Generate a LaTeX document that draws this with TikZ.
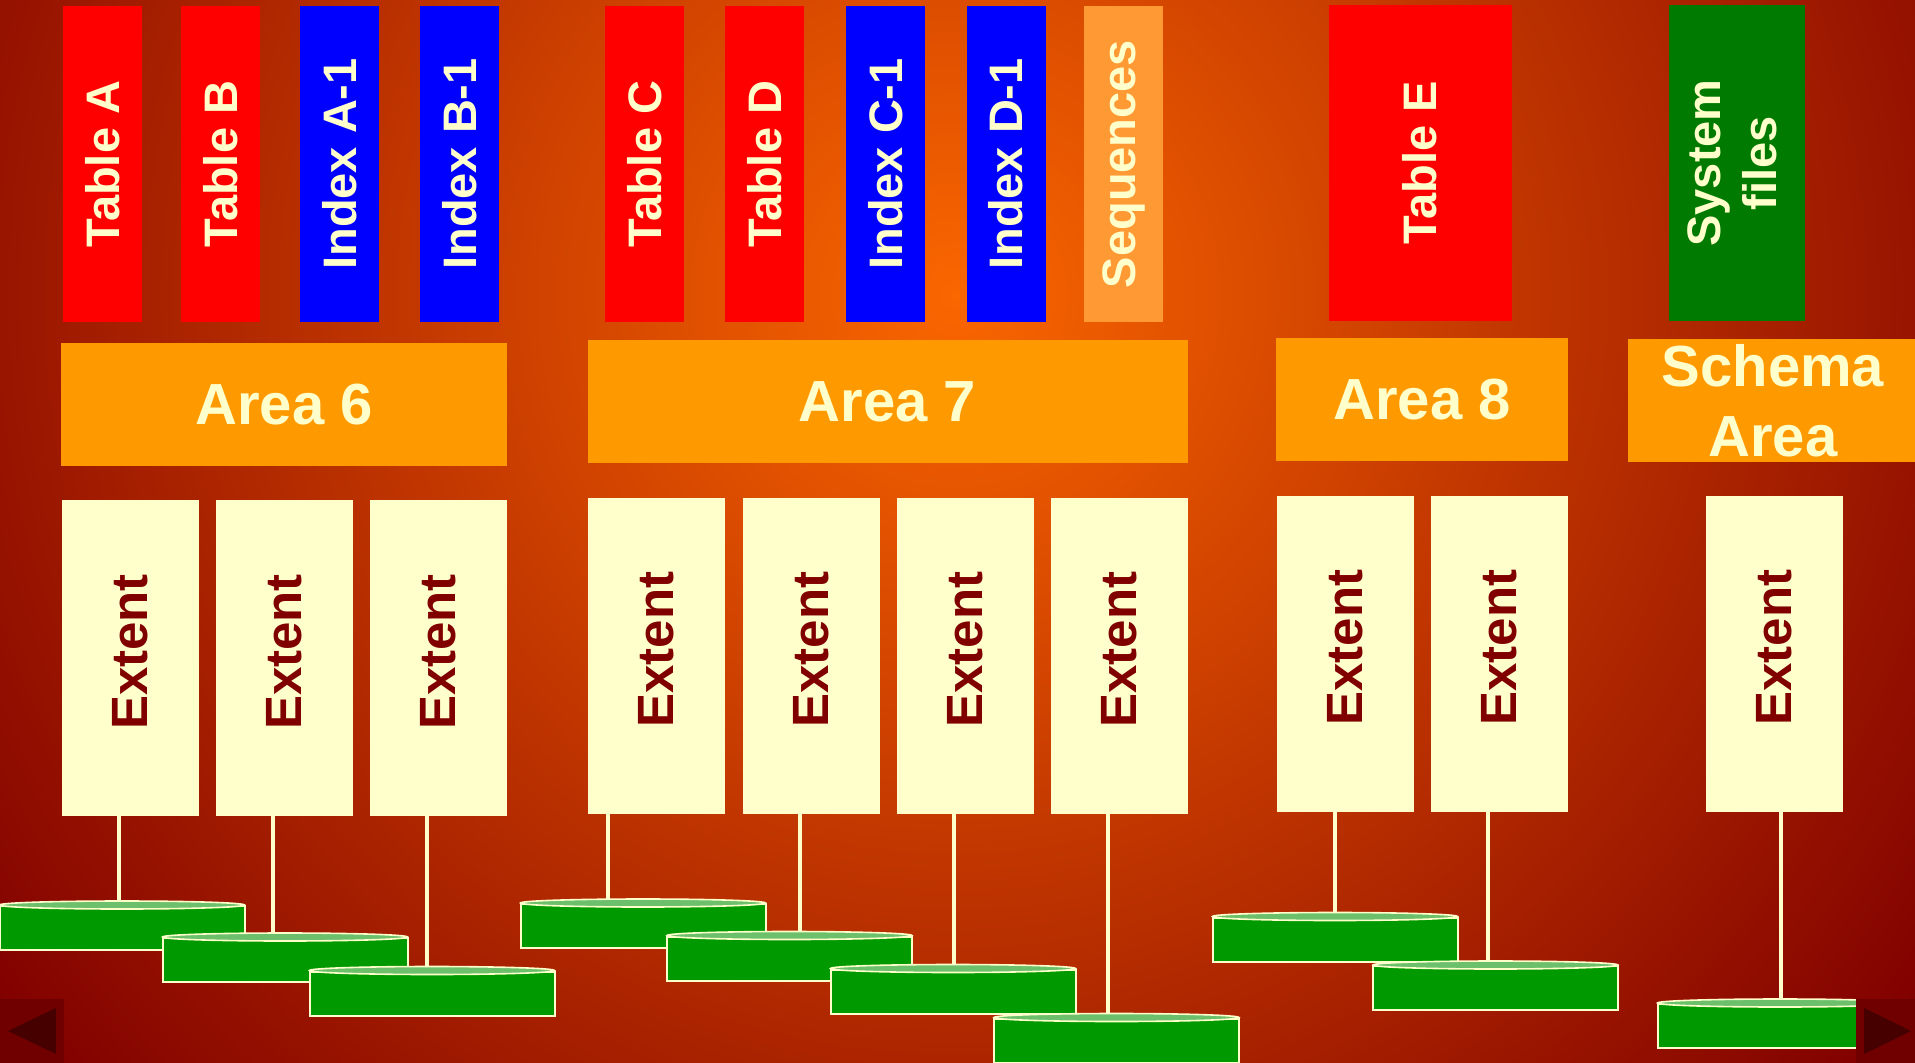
\documentclass[tikz,border=0pt]{standalone}
\usepackage{fontspec}
\setmainfont{Liberation Sans}
\usepackage{graphicx}
\usepackage{tikz}

\definecolor{cream}{HTML}{FFFFCC}
\definecolor{tabred}{HTML}{FF0000}
\definecolor{idxblue}{HTML}{0000FF}
\definecolor{seqorange}{HTML}{FF9933}
\definecolor{areaorange}{HTML}{FF9900}
\definecolor{sysgreen}{HTML}{007A00}
\definecolor{diskgreen}{HTML}{009900}
\definecolor{disktop}{HTML}{6CC06C}
\definecolor{extred}{HTML}{800000}
\definecolor{navbox}{HTML}{700000}
\definecolor{navtri}{HTML}{460000}
\definecolor{glowin}{RGB}{250,102,0}
\definecolor{glowout}{RGB}{128,0,0}
\pgfdeclareradialshading{glow}{\pgfpoint{0bp}{0bp}}{color(0bp)=(glowin); color(25bp)=(glowout); color(50bp)=(glowout)}
\newcommand{\extlabel}{\rotatebox{90}{\hspace*{12pt}Extent}}

\begin{document}
\begin{tikzpicture}[x=1pt,y=-1pt,
        obj/.style={minimum width=79pt, minimum height=316pt, inner sep=0pt, text=cream,
            font=\bfseries\fontsize{47}{56}\selectfont, align=center},
        area/.style={fill=areaorange, minimum height=123pt, inner sep=0pt, text=cream,
            font=\bfseries\fontsize{58}{70}\selectfont, align=center},
        ext/.style={fill=cream, minimum width=137pt, minimum height=316pt, inner sep=0pt,
            text=extred, font=\bfseries\fontsize{51}{60}\selectfont},
        disk/.style={fill=diskgreen, draw=cream, line width=2pt,
            minimum width=245pt, minimum height=44pt, inner sep=0pt},
        diskface/.style={fill=disktop, draw=cream, line width=1.6pt},
        link/.style={draw=cream, line width=4pt, shorten >=4pt}]
        \useasboundingbox (0,0) rectangle (1915,1063);
        \begin{scope}
            \clip (0,0) rectangle (1915,1063);
            \shade[shading=glow] (-245,-905) rectangle (2155,1495);
        \end{scope}

        % tables, indexes and sequences
        \foreach \n/\x/\c/\t in {tA/102.5/tabred/Table A, tB/220.5/tabred/Table B,
                iA/339.5/idxblue/Index A-1, iB/459.5/idxblue/Index B-1,
                tC/644.5/tabred/Table C, tD/764.5/tabred/Table D,
                iC/885.5/idxblue/Index C-1, iD/1006/idxblue/Index D-1,
                sq/1123.5/seqorange/Sequences}
            \node[obj, fill=\c] (\n) at (\x,164) {\rotatebox{90}{\t}};
        \node[obj, fill=tabred, minimum width=183pt] (tE) at (1420,163) {\rotatebox{90}{Table E}};
        \node[obj, fill=sysgreen, minimum width=136pt] (sys) at (1737,163)
            {\rotatebox{90}{\begin{tabular}{@{}c@{}}System\\files\end{tabular}}};

        % areas
        \node[area, minimum width=446pt] (a6) at (284,404.5) {Area 6};
        \node[area, minimum width=600pt] (a7) at (887.5,401.5) {Area 7};
        \node[area, minimum width=292pt] (a8) at (1422,399.5) {Area 8};
        \node[area, minimum width=290pt] (aS) at (1773,400.5) {Schema\\Area};

        % extents
        \foreach \n/\x/\y in {e61/130/658, e62/284.5/658, e63/438.5/658,
                e71/656.5/655.5, e72/811/655.5, e73/965/655.5, e74/1119/655.5,
                e81/1345.5/653.5, e82/1499.5/653.5, eS/1774.5/653.5}
            \node[ext] (\n) at (\x,\y) {\extlabel};

        % data files
        \foreach \n/\x/\y in {d1/122/928, d2/285/960, d3/432/993.5,
                d4/643/926, d5/789.5/958.5, d6/953/991.5, d7/1116.5/1040.5,
                d8/1335/939.5, d9/1495.5/988, dS/1780/1026}{
            \node[disk] (\n) at (\x,\y) {};
            \draw[diskface] (\n.north) ellipse [x radius=122.5pt, y radius=4pt];
        }

        \foreach \e/\d/\lx in {e61/d1/119, e62/d2/273, e63/d3/427,
                e71/d4/608, e72/d5/800, e73/d6/954, e74/d7/1108,
                e81/d8/1335, e82/d9/1488, eS/dS/1781}
            \draw[link] (\e.south -| \lx,0) -- (\d.north -| \lx,0);

        % slide buttons
        \fill[navbox] (0,999) rectangle (64,1063);
        \fill[navtri] (8,1031) -- (56,1008) -- (56,1054) -- cycle;
        \fill[navbox] (1856,999) rectangle (1915,1063);
        \fill[navtri] (1864,1008) -- (1911,1031) -- (1864,1054) -- cycle;
    \end{tikzpicture}
\end{document}
